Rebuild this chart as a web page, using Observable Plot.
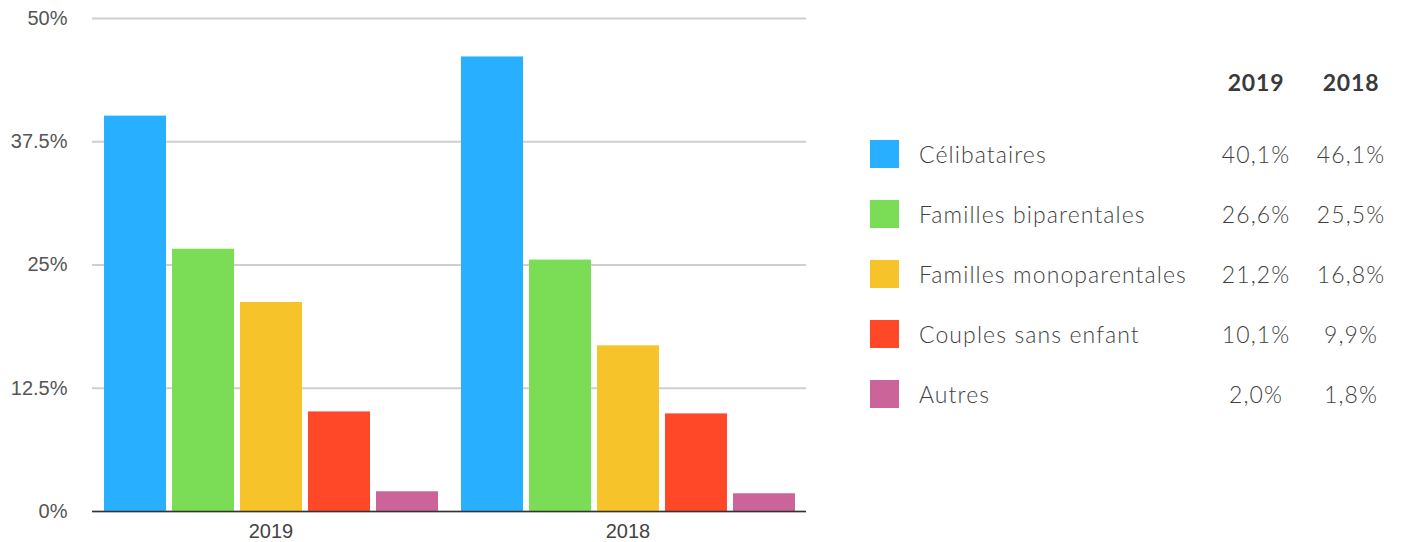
<!DOCTYPE html>
<html>
<head>
<meta charset="utf-8">
<script src="https://cdn.jsdelivr.net/npm/d3@7"></script>
<script src="https://cdn.jsdelivr.net/npm/@observablehq/plot@0.6"></script>
<style>
  html, body { margin: 0; padding: 0; background: #fff; }
  #wrap { position: relative; width: 1402px; height: 542px; overflow: hidden; }
  #chart { position: absolute; left: 0; top: 0; }
  .lg { position: absolute; font-family: Lato, "Open Sans", sans-serif; font-size: 23px; font-weight: 300; letter-spacing: 1.1px; color: #3f3f3f; line-height: 1; white-space: nowrap; }
  .hd { font-weight: 700; color: #3a3a3a; letter-spacing: 0.8px; }
  .sw { position: absolute; width: 29px; height: 28px; }
</style>
</head>
<body>
<div id="wrap"><div id="chart"></div></div>
<script>
const categories = ["Célibataires", "Familles biparentales", "Familles monoparentales", "Couples sans enfant", "Autres"];
const years = ["2019", "2018"];
const values2019 = [40.1, 26.6, 21.2, 10.1, 2.0];
const values2018 = [46.1, 25.5, 16.8, 9.9, 1.8];
const colors = ["#29afff", "#7bdd55", "#f7c32a", "#ff4828", "#cb6499"];
const yTicks = [0, 12.5, 25, 37.5, 50];

const seriesByYear = {"2019": values2019, "2018": values2018};
const data = years.flatMap(yr => categories.map((c, i) => ({year: yr, cat: c, value: seriesByYear[yr][i]})));

const chart = Plot.plot({
  width: 830,
  height: 542,
  marginLeft: 92,
  marginRight: 24,
  marginTop: 18,
  marginBottom: 31,
  style: {fontFamily: "'Liberation Sans', Arial, sans-serif", fontSize: "20px", color: "#555", background: "transparent"},
  fx: {domain: years, padding: 0, label: null},
  x: {domain: categories, axis: null, paddingInner: 0.09, paddingOuter: 0.17},
  y: {domain: [0, 50], label: null},
  color: {domain: categories, range: colors},
  marks: [
    Plot.gridY(yTicks, {stroke: "#cfcfcf", strokeOpacity: 1, strokeWidth: 2}),
    Plot.barY(data, {fx: "year", x: "cat", y: "value", fill: "cat"}),
    Plot.ruleY([0], {stroke: "#333", strokeWidth: 1.5}),
    Plot.axisY(yTicks, {tickSize: 0, tickPadding: 25, tickFormat: d => d + "%", label: null, fill: "#555", fontSize: 20}),
    Plot.axisFx({anchor: "bottom", tickSize: 0, tickPadding: 12, label: null, fill: "#444", fontSize: 20})
  ]
});
document.getElementById("chart").appendChild(chart);

// Legend table
const fmt = v => d3.format(".1f")(v).replace(".", ",") + "%";
const wrap = d3.select("#wrap");
const headerY = 82, rowY0 = 154, rowStep = 60;
const col2019 = 1256, col2018 = 1351;
years.forEach(yr => {
  wrap.append("div").attr("class", "lg hd")
    .style("left", (yr === "2019" ? col2019 : col2018) + "px")
    .style("top", headerY + "px")
    .style("transform", "translate(-50%, -50%)")
    .text(yr);
});
categories.forEach((c, i) => {
  const cy = rowY0 + i * rowStep;
  wrap.append("div").attr("class", "sw")
    .style("left", "870px").style("top", (cy - 14) + "px")
    .style("background", colors[i]);
  wrap.append("div").attr("class", "lg")
    .style("left", "919px").style("top", cy + "px")
    .style("transform", "translate(0, -50%)")
    .text(c);
  wrap.append("div").attr("class", "lg")
    .style("left", col2019 + "px").style("top", cy + "px")
    .style("transform", "translate(-50%, -50%)")
    .text(fmt(values2019[i]));
  wrap.append("div").attr("class", "lg")
    .style("left", col2018 + "px").style("top", cy + "px")
    .style("transform", "translate(-50%, -50%)")
    .text(fmt(values2018[i]));
});
</script>
</body>
</html>
